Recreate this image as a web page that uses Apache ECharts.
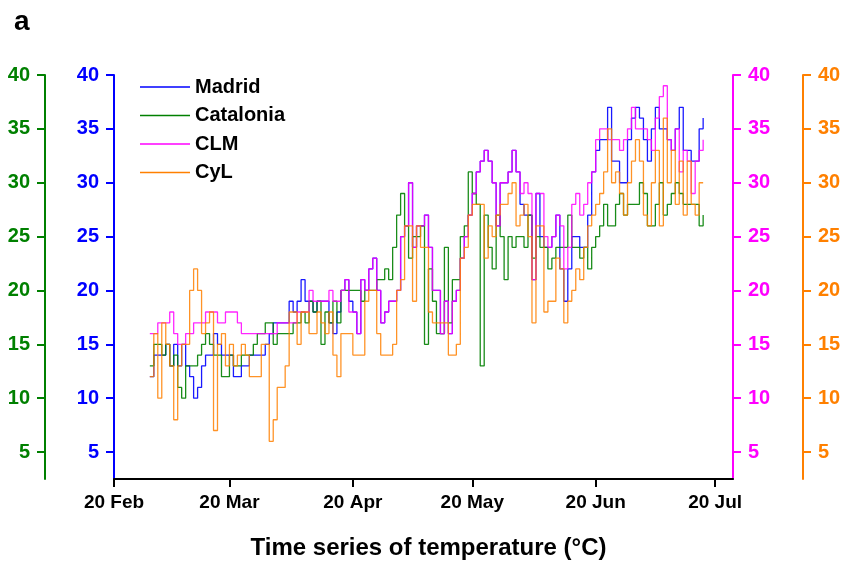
<!DOCTYPE html>
<html>
<head>
<meta charset="utf-8">
<script src="https://cdn.jsdelivr.net/npm/echarts@6/dist/echarts.min.js"></script>
<style>
html,body{margin:0;padding:0;background:#fff;}
#chart{width:857px;height:564px;}
</style>
</head>
<body>
<div id="chart"></div>
<script>
// ---- data (daily values, first day 2020-02-29) ----
const startDate = '2020-02-29';
const seriesNames = ['Madrid', 'Catalonia', 'CLM', 'CyL'];
const madrid = [
  12,14,14,14,15,13,15,13,15,13,
  12,10,11,13,14,14,16,15,14,14,
  14,12,12,13,13,14,14,14,14,15,
  16,17,17,17,17,19,18,19,21,19,
  19,18,19,19,19,17,16,18,20,21,
  19,18,16,21,20,22,23,20,17,18,
  19,19,20,25,26,30,24,26,26,27,
  24,20,20,16,19,16,19,20,23,25,
  27,29,31,32,33,32,30,26,30,30,
  31,33,31,28,27,27,21,29,25,24,
  24,25,27,22,19,22,25,25,24,24,
  27,31,33,34,34,37,32,32,30,30,
  34,36,37,36,34,32,35,37,35,35,
  34,33,35,37,33,33,32,32,35,36
];
const catalonia = [
  13,15,15,14,15,13,14,11,10,13,
  13,13,14,15,16,15,14,14,12,12,
  14,13,13,14,14,14,15,16,16,17,
  17,15,16,16,16,16,17,17,18,17,
  19,18,19,15,18,17,19,17,20,20,
  20,20,20,19,20,20,20,21,21,22,
  21,24,27,29,26,23,25,25,26,15,
  22,19,16,16,24,17,21,21,25,26,
  31,29,28,13,27,24,22,27,25,21,
  25,24,25,25,24,27,23,25,24,24,
  22,23,24,24,24,27,24,24,23,24,
  22,24,25,26,28,26,26,28,29,27,
  28,28,28,30,29,26,26,28,30,27,
  28,29,30,29,28,28,28,28,26,27
];
const clm = [
  16,16,17,17,17,18,16,15,15,16,
  16,17,17,17,18,18,18,17,17,18,
  18,18,17,16,16,16,16,16,16,16,
  16,16,17,17,17,17,17,18,18,18,
  20,19,19,19,19,20,19,19,20,21,
  18,18,16,21,20,22,23,20,17,18,
  19,19,20,25,26,30,24,26,26,27,
  24,20,20,16,19,16,19,20,23,25,
  27,29,31,32,33,32,30,26,30,30,
  31,33,31,29,30,29,21,29,29,25,
  24,25,27,26,22,24,28,29,27,28,
  30,31,34,35,35,34,34,34,33,34,
  35,37,35,35,35,34,33,36,38,39,
  34,33,35,31,33,32,29,32,33,34
];
const cyl = [
  12,16,10,17,15,13,8,13,15,15,
  20,22,20,16,17,18,7,15,16,13,
  15,13,14,15,14,12,12,12,15,15,
  6,8,11,11,13,18,18,15,18,18,
  16,16,18,17,16,18,14,12,16,16,
  16,14,14,14,19,20,20,16,14,14,
  14,15,20,21,26,26,19,26,24,24,
  18,17,17,17,17,14,14,15,23,24,
  27,28,28,28,23,26,25,27,28,28,
  29,30,26,27,28,25,17,26,26,18,
  19,19,23,22,17,19,20,22,21,24,
  26,27,28,29,31,35,30,31,29,27,
  30,32,34,32,27,26,30,33,26,36,
  30,33,28,32,27,32,28,27,30,30
];
const xTickDates = ['2020-02-20','2020-03-20','2020-04-20','2020-05-20','2020-06-20','2020-07-20'];
const xTickLabels = ['20 Feb','20 Mar','20 Apr','20 May','20 Jun','20 Jul'];
const yTicks = [5,10,15,20,25,30,35,40];
const xMin = '2020-02-20T00:00:00Z';
const xMax = '2020-07-24T12:00:00Z';

// ---- build ----
const DAY = 86400000;
const t0 = Date.parse(startDate + 'T00:00:00Z');
function toPairs(arr){ return arr.map((v,i)=>[t0 + i*DAY, v]); }
const tickTs = xTickDates.map(d=>Date.parse(d + 'T00:00:00Z'));

const colors = ['#0000ff', '#008000', '#ff00ff', '#ff8000'];
const FONT = 'Liberation Sans, Arial, sans-serif';

function yAxis(color, position, offset){
  return {
    type:'value', min:2.5, max:40, position:position, offset:offset,
    axisLine:{show:true, onZero:false, lineStyle:{color:color, width:2}},
    axisTick:{show:true, length:8, lineStyle:{color:color, width:2}, customValues:yTicks},
    axisLabel:{color:color, fontWeight:'bold', fontSize:20, fontFamily:FONT, margin:15, customValues:yTicks},
    splitLine:{show:false}
  };
}

const chart = echarts.init(document.getElementById('chart'), null, {renderer:'canvas'});
chart.setOption({
  animation:false,
  backgroundColor:'#ffffff',
  title:[
    {text:'a', left:9, top:3, textStyle:{fontSize:28, fontWeight:'bold', color:'#000', fontFamily:FONT}},
    {text:'Time series of temperature (°C)', left:'center', top:531, textStyle:{fontSize:24, fontWeight:'bold', color:'#000', fontFamily:FONT}}
  ],
  legend:{
    orient:'vertical', left:135, top:72, icon:'rect', itemWidth:50, itemHeight:1.6, itemGap:8.5,
    textStyle:{fontSize:20, fontWeight:'bold', color:'#000', fontFamily:FONT},
    data:seriesNames
  },
  grid:{left:114, right:124, top:75, bottom:85, containLabel:false},
  xAxis:{
    type:'value', min:Date.parse(xMin), max:Date.parse(xMax),
    axisLine:{show:true, onZero:false, lineStyle:{color:'#000', width:2}},
    axisTick:{show:true, length:8, lineStyle:{color:'#000', width:2}, customValues:tickTs},
    axisLabel:{color:'#000', fontWeight:'bold', fontSize:19, fontFamily:FONT, margin:14, customValues:tickTs,
      formatter:function(v){ const i = tickTs.indexOf(v); return i>=0 ? xTickLabels[i] : ''; }},
    splitLine:{show:false}
  },
  yAxis:[
    yAxis(colors[0], 'left', 0),
    yAxis(colors[1], 'left', 69),
    yAxis(colors[2], 'right', 0),
    yAxis(colors[3], 'right', 70)
  ],
  series:[
    {name:seriesNames[0], type:'line', step:'end', symbol:'none', yAxisIndex:0, data:toPairs(madrid), color:colors[0], lineStyle:{width:1.3, opacity:0.9}},
    {name:seriesNames[1], type:'line', step:'end', symbol:'none', yAxisIndex:1, data:toPairs(catalonia), color:colors[1], lineStyle:{width:1.3, opacity:0.9}},
    {name:seriesNames[2], type:'line', step:'end', symbol:'none', yAxisIndex:2, data:toPairs(clm), color:colors[2], lineStyle:{width:1.3, opacity:0.85}},
    {name:seriesNames[3], type:'line', step:'end', symbol:'none', yAxisIndex:3, data:toPairs(cyl), color:colors[3], lineStyle:{width:1.3, opacity:0.85}}
  ]
});
</script>
</body>
</html>
